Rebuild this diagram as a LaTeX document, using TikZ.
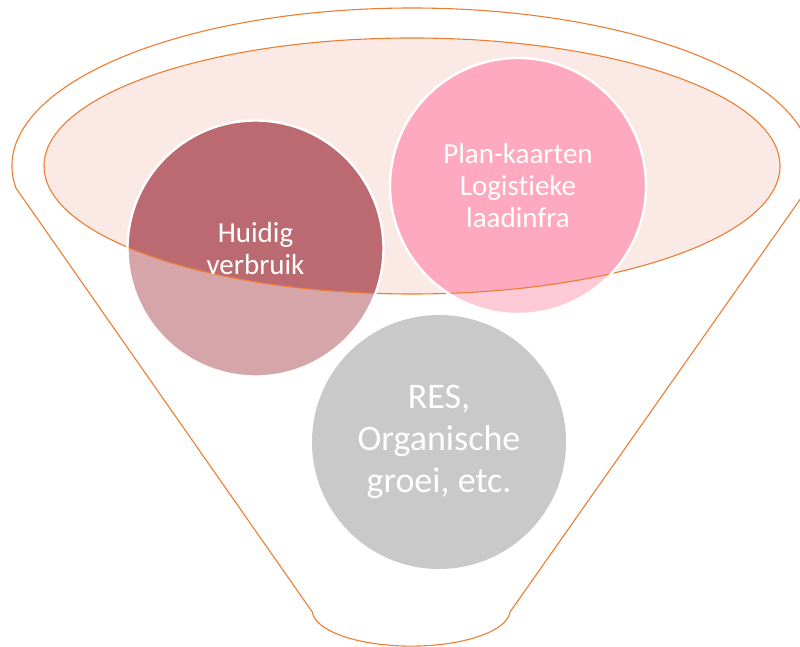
\documentclass[tikz,border=0pt]{standalone}
\usepackage{fontspec}
\setmainfont{Carlito}[Ligatures={NoCommon}]
\definecolor{orangeline}{HTML}{ED7D31}
\definecolor{ellfill}{HTML}{FBE9E6}
\definecolor{huiddark}{HTML}{BC6A72}
\definecolor{huidlight}{HTML}{D6A5AA}
\definecolor{pinkdark}{HTML}{FFA9C0}
\definecolor{pinklight}{HTML}{FFCAD8}
\definecolor{greyfill}{HTML}{C9C9C9}
\begin{document}
\begin{tikzpicture}[x=1pt,y=1pt,
  funnelline/.style={draw=orangeline, line width=1.1pt},
  bubble/.style={circle, minimum size=256pt, inner sep=0pt, draw=white, line width=2.4pt, text=white, align=center},
  smalltext/.style={font=\fontsize{29}{32}\selectfont},
  bigtext/.style={font=\fontsize{36}{42}\selectfont},
]
\useasboundingbox (0,0) rectangle (800,647);
% funnel outline
\draw[funnelline] (15.9,459) arc[start angle=188, end angle=-8, x radius=400, y radius=158]
  -- (510,35) arc[start angle=-3, end angle=-177, x radius=99, y radius=36] -- cycle;
% inner ellipse fill
\fill[ellfill] (412,481) ellipse[x radius=368, y radius=128];
% lighter circle parts
\fill[huidlight] (255.5,398.5) circle[radius=128];
\fill[pinklight] (518,461) circle[radius=128];
\begin{scope}
  \clip (412,481) ellipse[x radius=368, y radius=128];
  \fill[huiddark] (255.5,398.5) circle[radius=128];
  \fill[pinkdark] (518,461) circle[radius=128];
\end{scope}
% grey circle
\fill[greyfill] (439,205) circle[radius=127];
% inner ellipse line
\draw[funnelline] (412,481) ellipse[x radius=368, y radius=128];
% labelled bubbles
\node[bubble, smalltext] (huidig) at (255.5,398.5) {Huidig\\verbruik};
\node[bubble, smalltext] (plan) at (518,461) {Plan-kaarten\\Logistieke\\laadinfra};
\node[bubble, bigtext, draw=none, minimum size=254pt] (res) at (439,205) {RES,\\Organische\\groei, etc.};
\end{tikzpicture}
\end{document}
